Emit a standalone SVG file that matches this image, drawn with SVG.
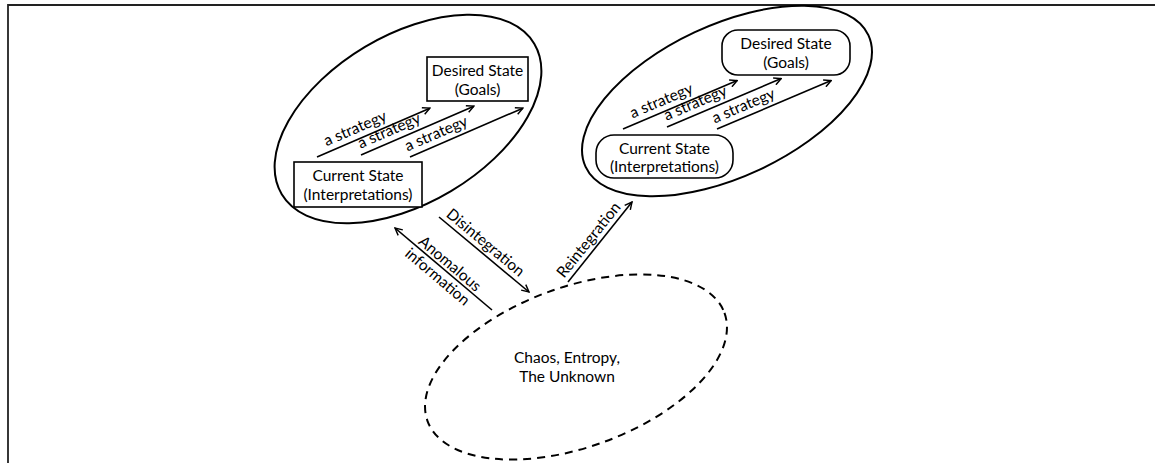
<svg xmlns="http://www.w3.org/2000/svg" width="1155" height="463" viewBox="0 0 1155 463">
<style>
text{font-family:Lato,"Liberation Sans",sans-serif;font-size:15.5px;fill:#000}
.c{text-anchor:middle}
.box{fill:#fff;stroke:#000;stroke-width:1.6}
.ell{fill:none;stroke:#000;stroke-width:2}
.dash{fill:none;stroke:#000;stroke-width:2;stroke-dasharray:8 6}
.ln{stroke:#000;stroke-width:1.6;fill:none;marker-end:url(#ah)}
</style>
<defs>
<marker id="ah" viewBox="0 0 10 10" refX="9" refY="5" markerWidth="9" markerHeight="9" markerUnits="userSpaceOnUse" orient="auto">
<path d="M1,1 L9,5 L1,9" fill="none" stroke="#000" stroke-width="1.6"/>
</marker>
</defs>
<rect x="0" y="0" width="1155" height="463" fill="#fff"/>
<path d="M8,463 V5 H1155" fill="none" stroke="#222" stroke-width="1.8"/>
<g id="cluster-left">
<ellipse class="ell" cx="408" cy="119" rx="147" ry="84" transform="rotate(-30.8 408 119)"/>
</g>
<g id="cluster-right">
<ellipse class="ell" cx="727" cy="101" rx="156" ry="76" transform="rotate(-25 727 101)"/>
</g>
<g id="chaos">
<ellipse class="dash" cx="576" cy="367" rx="158" ry="80" transform="rotate(-20 576 367)"/>
<text class="c" x="567" y="363">Chaos, Entropy,</text>
<text class="c" x="567" y="382">The Unknown</text>
</g>
<g id="left-desired">
<rect class="box" x="427" y="57" width="101" height="44"/>
<text class="c" x="477.5" y="76">Desired State</text>
<text class="c" x="477.5" y="95">(Goals)</text>
</g>
<g id="left-current">
<rect class="box" x="294" y="162" width="128" height="45"/>
<text class="c" x="358" y="181">Current State</text>
<text class="c" x="358" y="200">(Interpretations)</text>
</g>
<g id="right-desired">
<rect class="box" x="722" y="30" width="128" height="45" rx="16"/>
<text class="c" x="786" y="49">Desired State</text>
<text class="c" x="786" y="68">(Goals)</text>
</g>
<g id="right-current">
<rect class="box" x="596" y="135" width="137" height="43" rx="18"/>
<text class="c" x="664.5" y="153.5">Current State</text>
<text class="c" x="664.5" y="172">(Interpretations)</text>
</g>
<g id="connectors">
<g transform="translate(317,157) rotate(-23.4)"><line class="ln" x1="0" y1="0" x2="123" y2="0"/><text x="13" y="-6">a strategy</text></g>
<g transform="translate(361,155) rotate(-23.4)"><line class="ln" x1="0" y1="0" x2="123" y2="0"/><text x="2" y="-6">a strategy</text></g>
<g transform="translate(410,157) rotate(-23.4)"><line class="ln" x1="0" y1="0" x2="123" y2="0"/><text x="0" y="-6">a strategy</text></g>
<g transform="translate(623,129) rotate(-23)"><line class="ln" x1="0" y1="0" x2="124" y2="0"/><text x="13" y="-6">a strategy</text></g>
<g transform="translate(667,127) rotate(-23)"><line class="ln" x1="0" y1="0" x2="124" y2="0"/><text x="2" y="-6">a strategy</text></g>
<g transform="translate(717,129) rotate(-23)"><line class="ln" x1="0" y1="0" x2="124" y2="0"/><text x="0" y="-6">a strategy</text></g>
<line class="ln" x1="492" y1="310" x2="395" y2="228"/>
<g transform="translate(395,228) rotate(40.2)"><text class="c" x="65" y="-3">Anomalous</text><text class="c" x="64" y="15">information</text></g>
<line class="ln" x1="439" y1="217" x2="529" y2="292"/>
<g transform="translate(439,217) rotate(39.8)"><text x="4" y="-5">Disintegration</text></g>
<line class="ln" x1="568" y1="282" x2="632" y2="202"/>
<g transform="translate(568,282) rotate(-51.3)"><text x="0" y="-5">Reintegration</text></g>
</g>
</svg>
